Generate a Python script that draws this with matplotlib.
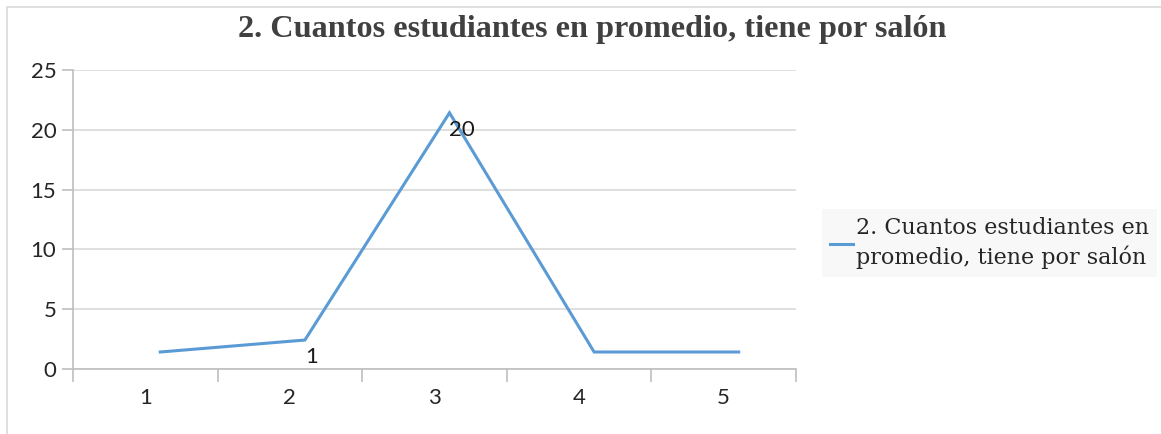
import matplotlib.pyplot as plt
import matplotlib.transforms as mtransforms
from matplotlib.patches import Rectangle

# datos
categorias = [1, 2, 3, 4, 5]
estudiantes = [0, 1, 20, 0, 0]
etiquetas = {2: "1", 3: "20"}
titulo = "2. Cuantos estudiantes en promedio, tiene por salón"
leyenda = "2. Cuantos estudiantes en\npromedio, tiene por salón"

fig = plt.figure(figsize=(11.61, 4.34), dpi=100)
ax = fig.add_axes([73 / 1161, 65 / 434, (796 - 73) / 1161, (369 - 70) / 434])

# borde exterior del grafico
fig.patches.append(Rectangle((7 / 1161, -0.1), 1.2, 0.1 + 427 / 434, transform=fig.transFigure,
                             fill=False, edgecolor="#d9d9d9", linewidth=1.2))

# la linea aparece desplazada en el original
desplazada = mtransforms.offset_copy(ax.transData, fig=fig, x=15, y=17, units="dots")
ax.plot(categorias, estudiantes, color="#5b9bd5", linewidth=2.2, transform=desplazada,
        label=leyenda, solid_joinstyle="miter")

for c, txt in etiquetas.items():
    ax.annotate(txt, (c, estudiantes[c - 1]), xytext=(15, 0), textcoords="offset pixels",
                ha="left", va="center", fontsize=16, family="Lato", color="#1a1a1a")

ax.set_xlim(0.5, 5.5)
ax.set_ylim(0, 25)
ax.set_yticks(range(0, 26, 5))
ax.set_xticks(categorias)
ax.set_xticks([0.5, 1.5, 2.5, 3.5, 4.5, 5.5], minor=True)
ax.tick_params(axis="x", which="major", length=0, pad=14, labelsize=16, labelcolor="#262626")
ax.tick_params(axis="x", which="minor", length=9, color="#bfbfbf", width=1.2)
ax.tick_params(axis="y", length=8, color="#bfbfbf", width=1.2, pad=4, labelsize=16, labelcolor="#262626")
for lab in ax.get_xticklabels() + ax.get_yticklabels():
    lab.set_family("Lato")

ax.grid(axis="y", color="#d9d9d9", linewidth=1.2)
ax.set_axisbelow(True)
for s in ["top", "right"]:
    ax.spines[s].set_visible(False)
ax.spines["left"].set_color("#bfbfbf")
ax.spines["bottom"].set_color("#bfbfbf")
ax.spines["left"].set_linewidth(1.2)
ax.spines["bottom"].set_linewidth(1.2)

fig.text(592 / 1161, 1 - 30 / 434, titulo, ha="center", va="center", fontsize=23.2,
         fontweight="bold", family="Liberation Serif", color="#404040")

leg = fig.legend(loc="center left", bbox_to_anchor=(822 / 1161, 1 - 243 / 434),
                 prop={"family": "DejaVu Serif", "size": 16},
                 frameon=True, fancybox=False,
                 handlelength=1.05, handletextpad=0.15, borderpad=0.35, borderaxespad=0)
leg.get_frame().set_facecolor("#f7f7f7")
leg.get_frame().set_edgecolor("none")
for t in leg.get_texts():
    t.set_color("#262626")
    t.set_linespacing(1.35)

fig.savefig("out.png", dpi=100)
